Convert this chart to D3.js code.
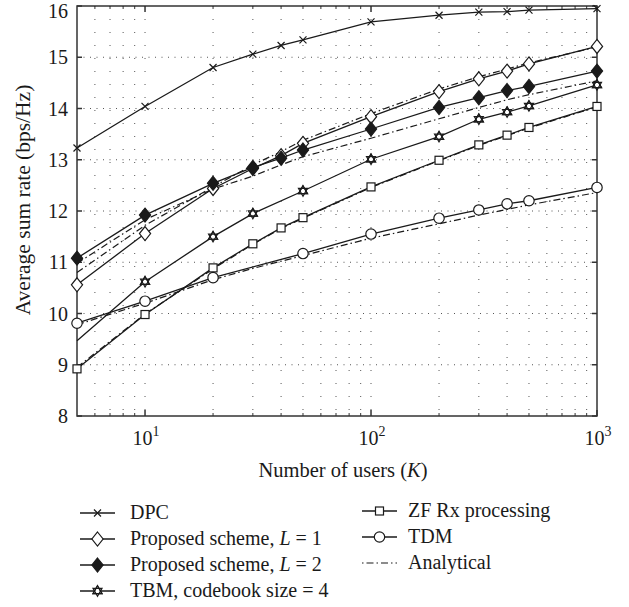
<!DOCTYPE html>
<html>
<head>
<meta charset="utf-8">
<script src="https://cdn.jsdelivr.net/npm/d3@7"></script>
<style>
  html, body { margin: 0; padding: 0; background: #fff; }
  svg { display: block; }
  text { font-family: "Liberation Serif", "Times New Roman", serif; fill: #1a1a1a; }
</style>
</head>
<body>
<svg id="chart" width="629" height="607"></svg>
<script>
// ---- data ----
const kAll = [5, 10, 20, 30, 40, 50, 100, 200, 300, 400, 500, 1000];
const dpc    = [13.23, 14.04, 14.80, 15.06, 15.23, 15.34, 15.69, 15.82, 15.88, 15.89, 15.92, 15.95];
const propL1 = [10.56, 11.56, 12.44, 12.83, 13.08, 13.32, 13.84, 14.33, 14.58, 14.73, 14.87, 15.21];
const propL2 = [11.08, 11.92, 12.54, 12.85, 13.03, 13.19, 13.60, 14.02, 14.21, 14.35, 14.43, 14.73];
const kTbm = [5, 10, 20, 30, 50, 100, 200, 300, 400, 500, 1000];
const tbm    = [9.47, 10.62, 11.50, 11.95, 12.39, 13.01, 13.45, 13.79, 13.93, 14.05, 14.46];
const zfRx   = [8.92, 9.98, 10.89, 11.36, 11.67, 11.87, 12.47, 12.99, 13.29, 13.48, 13.63, 14.04];
const kTdm = [5, 10, 20, 50, 100, 200, 300, 400, 500, 1000];
const tdm    = [9.81, 10.24, 10.70, 11.17, 11.55, 11.86, 12.02, 12.14, 12.20, 12.46];
// analytical curves
const anaL1  = [10.80, 11.72, 12.47, 12.90, 13.16, 13.38, 13.90, 14.38, 14.62, 14.77, 14.89, 15.20];
const anaL2  = [10.98, 11.83, 12.43, 12.68, 12.90, 13.06, 13.42, 13.80, 14.02, 14.17, 14.27, 14.54];
const anaZf  = [8.95, 9.99, 10.87, 11.35, 11.66, 11.86, 12.46, 12.98, 13.28, 13.47, 13.62, 14.03];
const anaTdm = [9.78, 10.20, 10.66, 10.88, 11.02, 11.13, 11.47, 11.75, 11.92, 12.03, 12.12, 12.36];

const yTicks = [8, 9, 10, 11, 12, 13, 14, 15, 16];
const xMajor = [10, 100, 1000];
const xMajorExp = ["1", "2", "3"];
const xMinor = [6, 7, 8, 9, 20, 30, 40, 50, 60, 70, 80, 90, 200, 300, 400, 500, 600, 700, 800, 900];

const legendLeft = ["DPC", "Proposed scheme, L = 1", "Proposed scheme, L = 2", "TBM, codebook size = 4"];
const legendRight = ["ZF Rx processing", "TDM", "Analytical"];

// ---- layout ----
const svg = d3.select("#chart");
const L = 77, R = 597, T = 6, B = 416;
const x = d3.scaleLog().domain([5, 1000]).range([L, R]);
const y = d3.scaleLinear().domain([8, 16]).range([B, T]);
const ink = "#1a1a1a";

// grid
const grid = svg.append("g");
grid.selectAll("line.v").data(xMinor.concat([10, 100])).enter().append("line")
  .attr("x1", d => x(d)).attr("x2", d => x(d)).attr("y1", T).attr("y2", B)
  .attr("stroke", "#555").attr("stroke-width", 1).attr("stroke-dasharray", "1,12");
grid.selectAll("line.h").data(yTicks.slice(1, -1)).enter().append("line")
  .attr("x1", L).attr("x2", R).attr("y1", d => y(d)).attr("y2", d => y(d))
  .attr("stroke", "#555").attr("stroke-width", 1).attr("stroke-dasharray", "1,5.5");

// axes box + ticks (inward)
const ax = svg.append("g").attr("stroke", "#333").attr("stroke-width", 1.5);
ax.append("rect").attr("x", L).attr("y", T).attr("width", R - L).attr("height", B - T).attr("fill", "none");
yTicks.forEach(v => {
  ax.append("line").attr("x1", L).attr("x2", L + 5).attr("y1", y(v)).attr("y2", y(v));
  ax.append("line").attr("x1", R).attr("x2", R - 5).attr("y1", y(v)).attr("y2", y(v));
});
xMinor.forEach(v => {
  ax.append("line").attr("x1", x(v)).attr("x2", x(v)).attr("y1", B).attr("y2", B - 3).attr("stroke-width", 1);
  ax.append("line").attr("x1", x(v)).attr("x2", x(v)).attr("y1", T).attr("y2", T + 3).attr("stroke-width", 1);
});
xMajor.forEach(v => {
  ax.append("line").attr("x1", x(v)).attr("x2", x(v)).attr("y1", B).attr("y2", B - 6);
  ax.append("line").attr("x1", x(v)).attr("x2", x(v)).attr("y1", T).attr("y2", T + 6);
});

// tick labels
svg.append("g").selectAll("text").data(yTicks).enter().append("text")
  .attr("x", 68).attr("y", d => Math.max(y(d), 11) + 7)
  .attr("text-anchor", "end").attr("font-size", 20).text(d => d);
xMajor.forEach((v, i) => {
  const t = svg.append("text").attr("x", x(v) + 1).attr("y", 445)
    .attr("text-anchor", "middle").attr("font-size", 20);
  t.append("tspan").text("10");
  t.append("tspan").attr("dy", -9).attr("font-size", 14).text(xMajorExp[i]);
});

// axis titles
const xl = svg.append("text").attr("x", 343).attr("y", 477).attr("text-anchor", "middle").attr("font-size", 20.5);
xl.append("tspan").text("Number of users (");
xl.append("tspan").attr("font-style", "italic").text("K");
xl.append("tspan").text(")");
svg.append("text").attr("transform", "translate(30,200) rotate(-90)")
  .attr("text-anchor", "middle").attr("font-size", 21.5).text("Average sum rate (bps/Hz)");

// ---- markers ----
function marker(g, type, cx, cy) {
  const s = g.append("g").attr("transform", `translate(${cx},${cy})`)
    .attr("stroke", ink).attr("stroke-width", 1.2);
  if (type === "x") {
    s.append("path").attr("d", "M-3.5,-3.5L3.5,3.5M-3.5,3.5L3.5,-3.5").attr("fill", "none");
  } else if (type === "diamond" || type === "diamondFilled") {
    s.append("path").attr("d", "M0,-7L5.6,0L0,7L-5.6,0Z")
      .attr("fill", type === "diamond" ? "#fff" : ink);
  } else if (type === "hexagram") {
    const r = 5.2;
    const tri = a => d3.range(3).map(i => {
      const ang = a + i * 2 * Math.PI / 3;
      return [r * Math.sin(ang), -r * Math.cos(ang)];
    });
    s.append("path").attr("d", "M" + tri(0).join("L") + "Z").attr("fill", "#fff");
    s.append("path").attr("d", "M" + tri(Math.PI).join("L") + "Z").attr("fill", "none");
    s.append("path").attr("d", "M" + tri(0).join("L") + "Z").attr("fill", "none");
  } else if (type === "square") {
    s.append("rect").attr("x", -4).attr("y", -4).attr("width", 8).attr("height", 8).attr("fill", "#fff");
  } else if (type === "circle") {
    s.append("circle").attr("r", 5.2).attr("fill", "#fff");
  }
}

const line = d3.line().x(d => x(d[0])).y(d => y(d[1]));
const zip = (ks, vs) => ks.map((k, i) => [k, vs[i]]);
const dashDot = "7,3,1.5,3";

const plot = svg.append("g");
// analytical (dash-dot)
[anaL1, anaL2, anaZf, anaTdm].forEach(vs => {
  plot.append("path").datum(zip(kAll, vs)).attr("d", line)
    .attr("fill", "none").attr("stroke", ink).attr("stroke-width", 1.2).attr("stroke-dasharray", dashDot);
});

const series = [
  { k: kAll, v: dpc, m: "x" },
  { k: kAll, v: propL1, m: "diamond" },
  { k: kAll, v: propL2, m: "diamondFilled" },
  { k: kTbm, v: tbm, m: "hexagram", skipFirst: true },
  { k: kAll, v: zfRx, m: "square" },
  { k: kTdm, v: tdm, m: "circle" }
];
series.forEach(s => {
  plot.append("path").datum(zip(s.k, s.v)).attr("d", line)
    .attr("fill", "none").attr("stroke", ink).attr("stroke-width", 1.3);
});
series.forEach(s => {
  zip(s.k, s.v).forEach((d, i) => {
    if (s.skipFirst && i === 0) return;
    marker(plot, s.m, x(d[0]), y(d[1]));
  });
});

// ---- legend ----
const lg = svg.append("g");
const leftMarkers = ["x", "diamond", "diamondFilled", "hexagram"];
const leftY = [513, 539, 565, 591];
legendLeft.forEach((name, i) => {
  const yy = leftY[i];
  lg.append("line").attr("x1", 80).attr("x2", 115).attr("y1", yy).attr("y2", yy)
    .attr("stroke", ink).attr("stroke-width", 1.3);
  marker(lg, leftMarkers[i], 97.5, yy);
  const t = lg.append("text").attr("x", 130).attr("y", yy + 6).attr("font-size", 20);
  const m = name.match(/^(.*), L = (\d)$/);
  if (m) {
    t.append("tspan").text(m[1] + ", ");
    t.append("tspan").attr("font-style", "italic").text("L");
    t.append("tspan").text(" = " + m[2]);
  } else {
    t.text(name);
  }
});
const rightMarkers = ["square", "circle", null];
const rightY = [511, 537, 563];
legendRight.forEach((name, i) => {
  const yy = rightY[i];
  const l = lg.append("line").attr("x1", 362).attr("x2", 397).attr("y1", yy).attr("y2", yy)
    .attr("stroke", ink).attr("stroke-width", 1.3);
  if (rightMarkers[i]) marker(lg, rightMarkers[i], 379.5, yy);
  else l.attr("stroke-dasharray", "1.5,3,7,3").attr("stroke-width", 1.2);
  lg.append("text").attr("x", 408).attr("y", yy + 6).attr("font-size", 20).text(name);
});
</script>
</body>
</html>
